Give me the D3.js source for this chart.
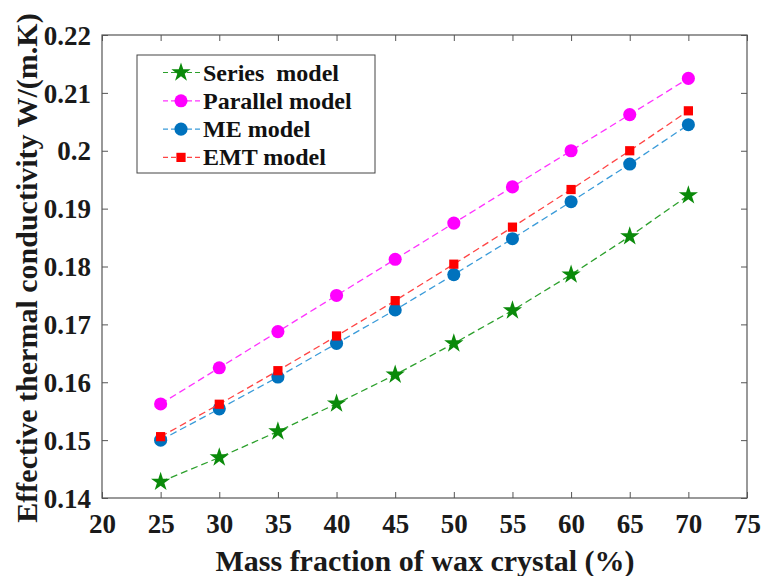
<!DOCTYPE html>
<html>
<head>
<meta charset="utf-8">
<script src="https://cdn.jsdelivr.net/npm/d3@7"></script>
<style>
  html, body { margin: 0; padding: 0; background: #fff; }
</style>
</head>
<body>
<div id="container"></div>
<script>
const fractions = [25, 30, 35, 40, 45, 50, 55, 60, 65, 70];
const seriesModel = [0.1428, 0.1470, 0.1515, 0.1563, 0.1613, 0.1667, 0.1724, 0.1786, 0.1852, 0.1923];
const parallelModel = [0.15625, 0.1625, 0.16875, 0.175, 0.18125, 0.1875, 0.19375, 0.2, 0.20625, 0.2125];
const meModel = [0.1500, 0.1554, 0.1609, 0.1667, 0.1725, 0.1786, 0.1848, 0.1912, 0.1977, 0.2045];
const emtModel = [0.1506, 0.1562, 0.1620, 0.1680, 0.1741, 0.1804, 0.1868, 0.1933, 0.2000, 0.2069];
const xTicks = [20, 25, 30, 35, 40, 45, 50, 55, 60, 65, 70, 75];
const yTicks = [0.14, 0.15, 0.16, 0.17, 0.18, 0.19, 0.2, 0.21, 0.22];

const series = [
    {name: 'Series  model', values: seriesModel, line: '#2ca02c', fill: '#0a8a0a', shape: 'star'},
    {name: 'Parallel model', values: parallelModel, line: '#ff33ff', fill: '#ff00ff', shape: 'circle'},
    {name: 'ME model', values: meModel, line: '#3a9bd9', fill: '#0072bd', shape: 'circle'},
    {name: 'EMT model', values: emtModel, line: '#ff4444', fill: '#ff0000', shape: 'square'}
];

const font = '"Liberation Serif", "Times New Roman", serif';
const width = 763, height = 576;
const plotLeft = 102, plotRight = 747, plotTop = 35, plotBottom = 498;

const svg = d3.select('#container')
    .append('svg')
    .attr('width', width)
    .attr('height', height)
    .style('display', 'block');

const x = d3.scaleLinear().domain([20, 75]).range([plotLeft, plotRight]);
const y = d3.scaleLinear().domain([0.14, 0.22]).range([plotBottom, plotTop]);

// frame
svg.append('rect')
    .attr('x', plotLeft)
    .attr('y', plotTop)
    .attr('width', plotRight - plotLeft)
    .attr('height', plotBottom - plotTop)
    .attr('fill', 'none')
    .attr('stroke', '#555')
    .attr('stroke-width', 1.2);

// axes, ticks inward
const axisStyle = g => {
    g.select('.domain').remove();
    g.selectAll('.tick line').attr('stroke', '#555');
    g.selectAll('.tick text')
        .style('font-family', font)
        .style('font-weight', 'bold')
        .style('font-size', '27px')
        .attr('fill', '#1a1a1a');
};
svg.append('g')
    .attr('transform', `translate(0,${plotBottom})`)
    .call(d3.axisBottom(x).tickValues(xTicks).tickSize(-6).tickPadding(14).tickFormat(d3.format('d')))
    .call(axisStyle)
    .selectAll('.tick text')
    .attr('dy', null)
    .attr('y', 35);
svg.append('g')
    .attr('transform', `translate(0,${plotTop})`)
    .call(d3.axisTop(x).tickValues(xTicks).tickSize(-6).tickFormat(''))
    .call(axisStyle);
svg.append('g')
    .attr('transform', `translate(${plotLeft},0)`)
    .call(d3.axisLeft(y).tickValues(yTicks).tickSize(-6).tickPadding(11).tickFormat(d => String(+d.toFixed(2))))
    .call(axisStyle)
    .selectAll('.tick text')
    .attr('dy', '0.34em');
svg.append('g')
    .attr('transform', `translate(${plotRight},0)`)
    .call(d3.axisRight(y).tickValues(yTicks).tickSize(-6).tickFormat(''))
    .call(axisStyle);

// axis titles
svg.append('text')
    .text('Mass fraction of wax crystal (%)')
    .attr('x', 425)
    .attr('y', 571)
    .attr('text-anchor', 'middle')
    .style('font-family', font)
    .style('font-weight', 'bold')
    .style('font-size', '30px')
    .attr('fill', '#1a1a1a');
svg.append('text')
    .text('Effective thermal conductivity W/(m.K)')
    .attr('transform', 'translate(37,268) rotate(-90)')
    .attr('text-anchor', 'middle')
    .style('font-family', font)
    .style('font-weight', 'bold')
    .style('font-size', '30px')
    .attr('fill', '#1a1a1a');

const symbolFor = shape => {
    if (shape === 'star') return d3.symbol().type(d3.symbolStar).size(115)();
    if (shape === 'square') return d3.symbol().type(d3.symbolSquare).size(85)();
    return d3.symbol().type(d3.symbolCircle).size(135)();
};

const line = d3.line()
    .x((d, i) => x(fractions[i]))
    .y(d => y(d));

series.forEach(s => {
    svg.append('path')
        .datum(s.values)
        .attr('d', line)
        .attr('fill', 'none')
        .attr('stroke', s.line)
        .attr('stroke-width', 1.3)
        .attr('stroke-dasharray', '7,4');
    svg.append('g')
        .selectAll('path')
        .data(s.values)
        .join('path')
        .attr('d', symbolFor(s.shape))
        .attr('transform', (d, i) => `translate(${x(fractions[i])},${y(d)})`)
        .attr('fill', s.fill);
});

// legend
const legend = svg.append('g');
legend.append('rect')
    .attr('x', 137)
    .attr('y', 55)
    .attr('width', 238)
    .attr('height', 118)
    .attr('fill', '#fff')
    .attr('stroke', '#444')
    .attr('stroke-width', 1);
series.forEach((s, i) => {
    const cy = 72.5 + i * 28.3;
    legend.append('line')
        .attr('x1', 163)
        .attr('x2', 200)
        .attr('y1', cy)
        .attr('y2', cy)
        .attr('stroke', s.line)
        .attr('stroke-width', 1.2)
        .attr('stroke-dasharray', '5,3');
    legend.append('path')
        .attr('d', symbolFor(s.shape))
        .attr('transform', `translate(181,${cy})`)
        .attr('fill', s.fill);
    legend.append('text')
        .text(s.name)
        .attr('x', 203)
        .attr('y', cy + 8)
        .style('font-family', font)
        .style('font-weight', 'bold')
        .style('font-size', '24px')
        .style('white-space', 'pre')
        .attr('fill', '#111');
});
</script>
</body>
</html>
